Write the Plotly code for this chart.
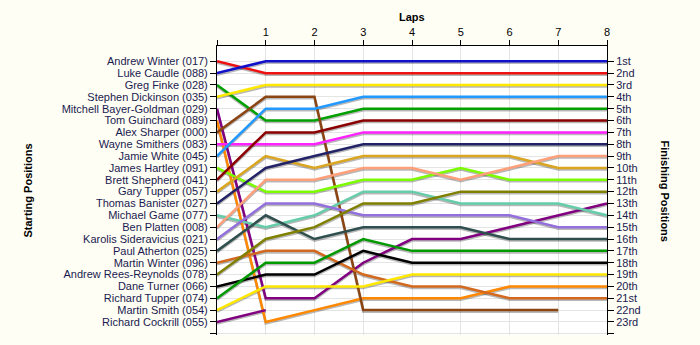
import plotly.graph_objects as go

laps = [0, 1, 2, 3, 4, 5, 6, 7, 8]

drivers = [
    "Andrew Winter (017)", "Luke Caudle (088)", "Greg Finke (028)", "Stephen Dickinson (035)",
    "Mitchell Bayer-Goldman (029)", "Tom Guinchard (089)", "Alex Sharper (000)", "Wayne Smithers (083)",
    "Jamie White (045)", "James Hartley (091)", "Brett Shepherd (041)", "Gary Tupper (057)",
    "Thomas Banister (027)", "Michael Game (077)", "Ben Platten (008)", "Karolis Sideravicius (021)",
    "Paul Atherton (025)", "Martin Winter (096)", "Andrew Rees-Reynolds (078)", "Dane Turner (066)",
    "Richard Tupper (074)", "Martin Smith (054)", "Richard Cockrill (055)",
]

positions = [
    [1, 2, 2, 2, 2, 2, 2, 2, 2],
    [2, 1, 1, 1, 1, 1, 1, 1, 1],
    [3, 6, 6, 5, 5, 5, 5, 5, 5],
    [4, 3, 3, 3, 3, 3, 3, 3, 3],
    [5, 21, 21, 18, 16, 16, 15, 14, 13],
    [6, 23, 22, 21, 21, 21, 20, 20, 20],
    [7, 4, 4, 22, 22, 22, 22, 22, None],
    [8, 8, 8, 7, 7, 7, 7, 7, 7],
    [9, 5, 5, 4, 4, 4, 4, 4, 4],
    [10, 12, 12, 11, 11, 10, 11, 11, 11],
    [11, 7, 7, 6, 6, 6, 6, 6, 6],
    [12, 9, 10, 9, 9, 9, 9, 10, 10],
    [13, 10, 9, 8, 8, 8, 8, 8, 8],
    [14, 15, 14, 12, 12, 13, 13, 13, 14],
    [15, 11, 11, 10, 10, 11, 10, 9, 9],
    [16, 13, 13, 14, 14, 14, 14, 15, 15],
    [17, 14, 16, 15, 15, 15, 16, 16, 16],
    [18, 17, 17, 19, 20, 20, 21, 21, 21],
    [19, 16, 15, 13, 13, 12, 12, 12, 12],
    [20, 19, 19, 17, 18, 18, 18, 18, 18],
    [21, 18, 18, 16, 17, 17, 17, 17, 17],
    [22, 20, 20, 20, 19, 19, 19, 19, 19],
    [23, 22, None, None, None, None, None, None, None],
]

colors = [
    "#EE1111", "#1111CC", "#00A000", "#FFE800",
    "#800080", "#FF8800", "#8B4513", "#FF22FF",
    "#2299FF", "#7CFC00", "#8B0000", "#DAA520",
    "#222266", "#66CDAA", "#FFA07A", "#9370DB",
    "#2F4F4F", "#D2691E", "#808000", "#000000",
    "#009900", "#FFE800", "#800080",
]

finish_labels = ["1st", "2nd", "3rd", "4th", "5th", "6th", "7th", "8th", "9th", "10th",
                 "11th", "12th", "13th", "14th", "15th", "16th", "17th", "18th", "19th",
                 "20th", "21st", "22nd", "23rd"]

lap_labels = ["", "1", "2", "3", "4", "5", "6", "7", "8"]

FONT = "Liberation Sans, Arial, sans-serif"

fig = go.Figure()

# shadows
for name, pos in zip(drivers, positions):
    fig.add_trace(go.Scatter(
        x=laps, y=[None if p is None else p + 0.13 for p in pos],
        mode="lines", line=dict(color="rgba(0,0,0,0.28)", width=2.5),
        showlegend=False, hoverinfo="skip", connectgaps=False,
    ))

for name, pos, c in zip(drivers, positions, colors):
    fig.add_trace(go.Scatter(
        x=laps, y=pos, mode="lines", name=name,
        line=dict(color=c, width=2.5), showlegend=False, connectgaps=False,
    ))

# dummy trace for right axis
fig.add_trace(go.Scatter(x=[None], y=[None], yaxis="y2", showlegend=False, hoverinfo="skip"))

yrange = [24.1, -0.29]
n = len(drivers)

fig.update_layout(
    width=700, height=345,
    margin=dict(l=217, r=93, t=46, b=10),
    paper_bgcolor="#FEFEF4",
    plot_bgcolor="#FFFFFF",
    font=dict(family=FONT, size=11, color="#000000"),
    xaxis=dict(
        range=[0, 8], side="top",
        tickvals=laps, ticktext=lap_labels,
        ticks="outside", ticklen=5, tickcolor="#000",
        showline=True, linecolor="#000", linewidth=1, mirror=False,
        showgrid=True, gridcolor="#E4E4E4", gridwidth=1,
        zeroline=False, tickfont=dict(size=11),
    ),
    yaxis=dict(
        range=yrange,
        tickvals=list(range(1, n + 2)), ticktext=drivers + [""],
        ticks="outside", ticklen=6, tickcolor="#000",
        showline=True, linecolor="#000", linewidth=1,
        showgrid=True, gridcolor="#E4E4E4", gridwidth=1,
        zeroline=False, tickfont=dict(size=11, color="#1a1a50"),
    ),
    yaxis2=dict(
        range=yrange, overlaying="y", side="right",
        tickvals=list(range(1, n + 2)), ticktext=finish_labels + [""],
        ticks="outside", ticklen=6, tickcolor="#000",
        showline=True, linecolor="#000", linewidth=1,
        showgrid=False, zeroline=False, tickfont=dict(size=11, color="#1a1a50"),
    ),
    annotations=[
        dict(text="<b>Laps</b>", xref="paper", yref="paper", x=0.5, y=1,
             yshift=29, xanchor="center", yanchor="middle", showarrow=False,
             font=dict(size=11)),
        dict(text="<b>Starting Positions</b>", xref="paper", yref="paper", x=0, y=0.5,
             xshift=-190, xanchor="center", yanchor="middle", showarrow=False,
             textangle=-90, font=dict(size=11)),
        dict(text="<b>Finishing Positions</b>", xref="paper", yref="paper", x=1, y=0.5,
             xshift=58, xanchor="center", yanchor="middle", showarrow=False,
             textangle=90, font=dict(size=11)),
    ],
)

fig.write_html("out.html")
